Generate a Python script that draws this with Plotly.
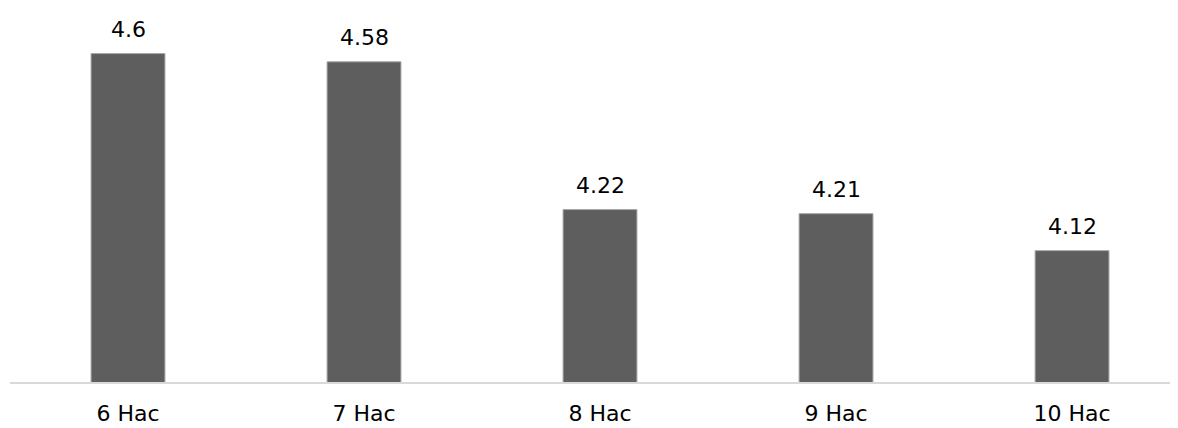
import plotly.graph_objects as go

categories = ["6 Hac", "7 Hac", "8 Hac", "9 Hac", "10 Hac"]
values = [4.6, 4.58, 4.22, 4.21, 4.12]
value_labels = ["4.6", "4.58", "4.22", "4.21", "4.12"]

FONT = "DejaVu Sans, Liberation Sans, Arial"

fig = go.Figure(
    go.Bar(
        x=categories,
        y=values,
        marker=dict(color="#5e5e5e", line=dict(color="#a6a6a6", width=1)),
        width=0.313,
        hoverinfo="skip",
    )
)

for c, v, t in zip(categories, values, value_labels):
    fig.add_annotation(
        x=c, y=v, text=t, showarrow=False,
        yanchor="bottom", yshift=10,
        font=dict(family=FONT, size=22, color="black"),
    )

fig.update_layout(
    width=1170,
    height=420,
    margin=dict(l=2, r=0, t=0, b=46),
    paper_bgcolor="white",
    plot_bgcolor="white",
    showlegend=False,
    font=dict(family=FONT, size=22, color="black"),
    xaxis=dict(
        type="category",
        range=[-0.5, 4.449],
        showline=True,
        linecolor="#d9d9d9",
        linewidth=2,
        showgrid=False,
        ticks="outside",
        ticklen=11,
        tickcolor="rgba(0,0,0,0)",
        tickfont=dict(family=FONT, size=22, color="black"),
    ),
    yaxis=dict(
        range=[3.8, 4.7111],
        visible=False,
        showgrid=False,
        zeroline=False,
    ),
)

fig.write_html("out.html")
